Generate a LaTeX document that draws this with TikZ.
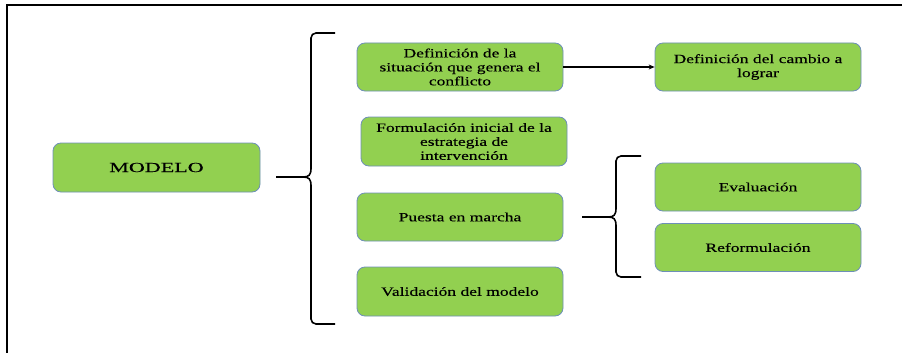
\documentclass[tikz,border=0pt]{standalone}
\usepackage{fontspec}
\usetikzlibrary{arrows.meta}
\setmainfont[FakeStretch=1.39,FakeBold=0.25]{Liberation Serif}
\newfontfamily\bigfont[FakeStretch=1.6,FakeBold=0.2]{Liberation Serif}
\definecolor{boxfill}{HTML}{92D050}
\definecolor{boxborder}{HTML}{6E8FB8}
\begin{document}
\begin{tikzpicture}[x=1pt,y=-1pt,
  box/.style={draw=boxborder, fill=boxfill, rounded corners=8pt, minimum width=206pt,
    minimum height=48pt, align=center, inner sep=2pt, line width=0.8pt,
    font=\fontsize{12.6}{14}\selectfont},
  brace/.style={line width=1.6pt, black},
  frame/.style={line width=2pt, black}]
\useasboundingbox (0,0) rectangle (902,353);
% frame
\draw[frame] (7,353) -- (7,5) -- (902,5);
% boxes
\node[box, minimum width=207pt, minimum height=49pt, font=\bigfont\fontsize{13.8}{14}\selectfont] (modelo) at (156.5,167.5) {MODELO};
\node[box] (def) at (460,67) {Definición de la\\situación que genera el\\conflicto};
\node[box] (cambio) at (758,67) {Definición del cambio a\\lograr};
\node[box, minimum height=49pt] (form) at (464,141.5) {Formulación inicial de la\\estrategia de\\intervención};
\node[box] (puesta) at (460,217) {Puesta en marcha};
\node[box, minimum height=49pt] (valid) at (460,291.5) {Validación del modelo};
\node[box] (eval) at (758,187) {Evaluación};
\node[box] (reform) at (758,247.5) {Reformulación};
% arrow
\draw[line width=1.4pt, -{Stealth[length=6pt,width=5pt]}] (def.east) -- (cambio.west);
% big brace
\coordinate (bstem) at (276,177);
\coordinate (bcusp) at (303,177);
\draw[brace, rounded corners=5pt] (335,33) -- (311,33) -- (311,169);
\draw[brace] (311,168) .. controls (311,175) and (309,177) .. (bcusp)
  .. controls (309,177) and (311,179) .. (311,186);
\draw[brace, rounded corners=5pt] (311,185) -- (311,324) -- (335,324);
\draw[brace] (bstem) -- (bcusp);
% small brace
\coordinate (sstem) at (582,217);
\coordinate (scusp) at (608,217);
\draw[brace, rounded corners=5pt] (641,156) -- (616,156) -- (616,209);
\draw[brace] (616,208) .. controls (616,215) and (614,217) .. (scusp)
  .. controls (614,217) and (616,219) .. (616,226);
\draw[brace, rounded corners=5pt] (616,225) -- (616,277) -- (641,277);
\draw[brace] (sstem) -- (scusp);
\end{tikzpicture}
\end{document}
